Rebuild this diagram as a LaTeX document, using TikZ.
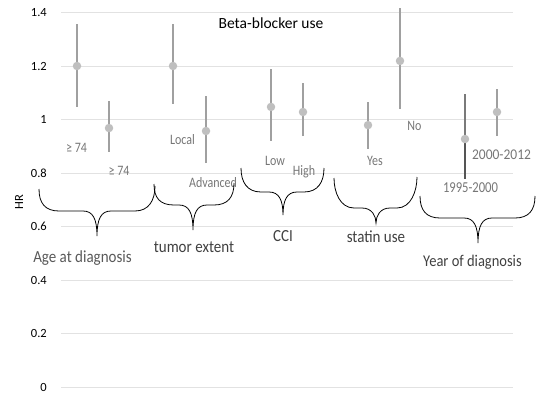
\documentclass[tikz,border=0pt]{standalone}
\usepackage{fontspec}
\setmainfont{Carlito}
\usepackage{graphicx}
\definecolor{gridc}{HTML}{E2E2E2}
\definecolor{barc}{HTML}{A0A0A0}
\definecolor{bardark}{HTML}{555555}
\definecolor{barmid}{HTML}{7A7A7A}
\definecolor{markc}{HTML}{BFBFBF}
\definecolor{lblc}{HTML}{767676}
\definecolor{grpc}{HTML}{404040}
\definecolor{grpl}{HTML}{595959}
\newcommand\Y[1]{387-267.5*#1}
\newcommand\stretchy[1]{\scalebox{1}[1.2]{#1}}
\newcommand\stretchg[1]{\scalebox{1}[1.13]{#1}}
\newcommand\drawbrace[8]{%
  \draw[bracel] (#1,#2) .. controls (#1,{#2+14}) and ({#1+6},#5) .. ({#1+20},#5)
    -- ({#6-14},#5) .. controls ({#6-4},#5) and (#6,{#5+8}) .. (#6,#7)
    .. controls (#6,{#5+8}) and ({#6+4},#5) .. ({#6+14},#5)
    -- ({#3-20},#5) .. controls ({#3-6},#5) and (#3,{#4+14}) .. (#3,#4);
  \coordinate (#8) at (#6,#7);}
\begin{document}
\begin{tikzpicture}[x=1pt,y=-1pt,
  gridline/.style={draw=gridc, line width=0.9pt},
  ticklbl/.style={anchor=east, inner sep=0pt, text=black, font=\fontsize{12.5}{14}\selectfont},
  ebar/.style={draw=barc, line width=2pt},
  marker/.style={circle, fill=markc, draw=none, minimum size=8.5pt, inner sep=0pt},
  catlbl/.style={anchor=base, inner sep=0pt, text=lblc, font=\fontsize{12}{14}\selectfont},
  grplbl/.style={anchor=base, inner sep=0pt, text=grpc, font=\fontsize{15}{18}\selectfont},
  bracel/.style={draw=black, line width=0.8pt},
]
\useasboundingbox (0,0) rectangle (540,396);
% grid and ticks
\foreach \v/\l [count=\i] in {0/0,0.2/0.2,0.4/0.4,0.6/0.6,0.8/0.8,1/1,1.2/1.2,1.4/1.4}{
  \draw[gridline] (61,{\Y{\v}}) -- (513,{\Y{\v}});
  \node[ticklbl] (tick\i) at (47,{\Y{\v}}) {\l};
}
\node[rotate=90, inner sep=0pt, font=\fontsize{12.5}{14}\selectfont] (hr) at (19,202) {HR};
\node[anchor=base, inner sep=0pt, font=\fontsize{15.5}{18}\selectfont] (title) at (271,28.5) {Beta-blocker use};
% error bars and markers
\foreach \x/\m/\lo/\hi [count=\i] in {77/1.2/1.047/1.357, 109/0.968/0.879/1.069,
   173/1.2/1.058/1.357, 206/0.957/0.837/1.088, 271/1.047/0.920/1.189,
   303/1.028/0.938/1.136, 368/0.979/0.890/1.065, 400/1.219/1.039/1.417,
   497/1.028/0.938/1.114}{
  \draw[ebar] (\x,{\Y{\lo}}) -- (\x,{\Y{\hi}});
  \node[marker] (p\i) at (\x,{\Y{\m}}) {};
}
\draw[draw=barmid, line width=1.6pt] (465,{\Y{0.927}}) -- (465,{\Y{1.095}});
\draw[draw=bardark, line width=2.2pt] (465,{\Y{0.778}}) -- (465,{\Y{0.927}});
\node[marker] (p10) at (465,{\Y{0.927}}) {};
% category labels
\node[catlbl] (c1) at (76.5,152) {\stretchy{≥ 74}};
\node[catlbl] (c2) at (119,175) {\stretchy{≥ 74}};
\node[catlbl] (c3) at (182.5,144) {\stretchy{Local}};
\node[catlbl] (c4) at (213,187) {\stretchy{Advanced}};
\node[catlbl] (c5) at (275,165) {\stretchy{Low}};
\node[catlbl] (c6) at (304,175) {\stretchy{High}};
\node[catlbl] (c7) at (375,165) {\stretchy{Yes}};
\node[catlbl] (c8) at (414.5,130) {\stretchy{No}};
\node[catlbl, font=\fontsize{12.6}{14}\selectfont] (c9) at (470.5,192.5) {\stretchy{1995-2000}};
\node[catlbl, font=\fontsize{13.5}{15}\selectfont] (c10) at (501.5,159) {\scalebox{1}[1.1]{2000-2012}};
% braces
\drawbrace{39}{189}{155}{186}{211}{97}{236}{b1}
\drawbrace{154}{184}{234}{183}{205}{193}{230}{b2}
\drawbrace{241}{168}{324}{168}{192}{283}{215}{b3}
\drawbrace{334}{178}{417}{177}{208}{376}{223}{b4}
\drawbrace{420}{196}{535}{196}{218}{478}{243}{b5}
% group labels
\node[grplbl, text=grpl] (g1) at (82.5,262) {\stretchg{Age at diagnosis}};
\node[grplbl] (g2) at (194,252.5) {\stretchg{tumor extent}};
\node[grplbl] (g3) at (283,241) {\stretchg{CCI}};
\node[grplbl] (g4) at (376,242.5) {\stretchg{statin use}};
\node[grplbl, font=\fontsize{14.5}{17}\selectfont] (g5) at (472.5,266) {\stretchg{Year of diagnosis}};
\end{tikzpicture}
\end{document}
